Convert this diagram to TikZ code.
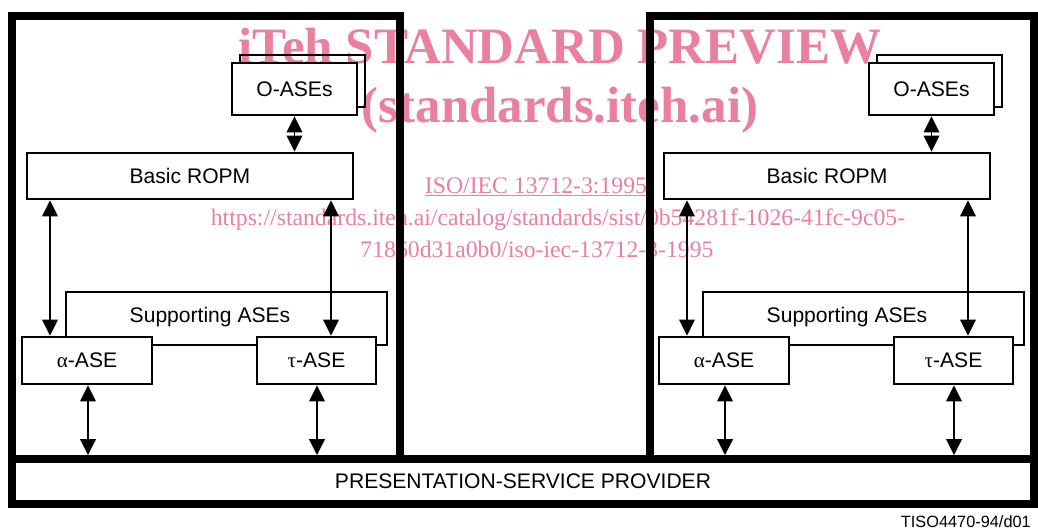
\documentclass[tikz,border=0pt]{standalone}
\usepackage{fontspec}
\setmainfont{Liberation Sans}
\newfontfamily\timesfont{Liberation Serif}
\usetikzlibrary{arrows.meta, shadows}
\definecolor{wmpink}{RGB}{234,128,160}

\tikzset{
  frame/.style={line width=4.3pt},
  box/.style={draw, line width=1.5pt, fill=white, font=\fontsize{12}{14}\selectfont},
  sbox/.style={draw, line width=1.2pt},
  dbl/.style={{Triangle[length=0.32cm,width=0.31cm]}-{Triangle[length=0.32cm,width=0.31cm]}, line width=1.1pt},
  wm/.style={text=wmpink, anchor=base, font=\timesfont\bfseries\fontsize{29}{30}\selectfont},
  wmsmall/.style={text=wmpink, anchor=base, font=\timesfont\fontsize{13.5}{15}\selectfont},
}

\begin{document}
\begin{tikzpicture}[x=0.02cm, y=-0.02cm]
  \useasboundingbox (0,0) rectangle (1038,529);

  % Two systems and the provider underneath
  \draw[frame] (12,16) rectangle (400,459);
  \draw[frame] (650,16) rectangle (1034,459);
  \node[draw, frame, minimum width=20.44cm, minimum height=0.9cm,
        font=\fontsize{12}{14}\selectfont] (prov) at (523,481.5)
    {PRESENTATION-SERVICE PROVIDER};

  % Contents of each system
  \foreach \s/\dx in {l/0, r/637} {
    \begin{scope}[shift={(\dx,0)}]
      \coordinate (c1) at (50,0);
      \coordinate (c2) at (331,0);
      \coordinate (c3) at (88,0);
      \coordinate (c4) at (317,0);

      \node[box, minimum width=2.5cm, minimum height=1.04cm,
            copy shadow={shadow xshift=0.16cm, shadow yshift=0.16cm}]
        (oase\s) at (294.5,89) {O-ASEs};
      \node[box, minimum width=6.52cm, minimum height=0.92cm] (ropm\s) at (190,176) {Basic ROPM};

      \node[sbox, minimum width=6.42cm, minimum height=1.06cm] (supp\s) at (226.5,318.5) {};
      \node[font=\fontsize{12}{14}\selectfont] (supptxt\s) at (210,317) {Supporting ASEs};

      \node[box, minimum width=2.6cm, minimum height=0.94cm] (alpha\s) at (87,360.5) {{\timesfont α}-ASE};
      \node[box, minimum width=2.38cm, minimum height=0.94cm] (tau\s) at (316.5,360.5) {{\timesfont τ}-ASE};

      % Arrows
      \draw[dbl] (oase\s.south) -- (oase\s.south |- ropm\s.north);
      \draw[dbl] (ropm\s.south -| c1) -- (alpha\s.north -| c1);
      \draw[dbl] (ropm\s.south -| c2) -- (tau\s.north -| c2);
      \draw[dbl] (alpha\s.south -| c3) -- (prov.north -| c3);
      \draw[dbl] (tau\s.south -| c4) -- (prov.north -| c4);
    \end{scope}
  }

  \node[anchor=base east, font=\fontsize{9.3}{11}\selectfont] (tag) at (1037,527) {TISO4470-94/d01};

  % Overprint
  \begin{scope}[blend mode=multiply]
    \node[wm] (wm1) at (560,63) {iTeh STANDARD PREVIEW};
    \node[wm] (wm2) at (560,122) {(standards.iteh.ai)};
    \node[wmsmall] (iso) at (536,193) {\underline{ISO/IEC 13712-3:1995}};
    \node[wmsmall] (url1) at (558,225) {https://standards.iteh.ai/catalog/standards/sist/0b54281f-1026-41fc-9c05-};
    \node[wmsmall] (url2) at (537,257) {71860d31a0b0/iso-iec-13712-3-1995};
  \end{scope}
\end{tikzpicture}
\end{document}
